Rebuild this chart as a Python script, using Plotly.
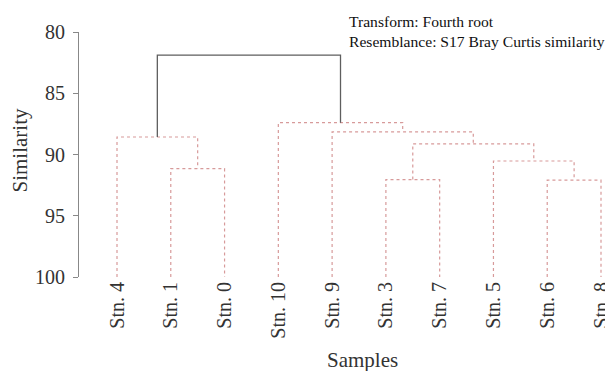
import plotly.graph_objects as go

# ---- data ----
leaf_labels = ["Stn. 4", "Stn. 1", "Stn. 0", "Stn. 10", "Stn. 9",
               "Stn. 3", "Stn. 7", "Stn. 5", "Stn. 6", "Stn. 8"]
# merges: (left child, right child, similarity); children are leaf labels or "m<k>"
merge_left = ["Stn. 1", "Stn. 4", "Stn. 6", "Stn. 5", "Stn. 3", "m4", "Stn. 9", "Stn. 10", "m1"]
merge_right = ["Stn. 0", "m0", "Stn. 8", "m2", "Stn. 7", "m3", "m5", "m6", "m7"]
merge_sim = [91.15, 88.57, 92.1, 90.53, 92.05, 89.14, 88.16, 87.40, 81.88]
merge_significant = [False, False, False, False, False, False, False, False, True]
y_ticks = [80, 85, 90, 95, 100]

# ---- compute node positions ----
pos = {lab: (i, 100.0) for i, lab in enumerate(leaf_labels)}
fig = go.Figure()
sig_color = "#5e5e5e"
ns_color = "#d79a9a"
for k, (a, b, s, sig) in enumerate(zip(merge_left, merge_right, merge_sim, merge_significant)):
    xa, ya = pos[a]
    xb, yb = pos[b]
    pos[f"m{k}"] = ((xa + xb) / 2, s)
    fig.add_trace(go.Scatter(
        x=[xa, xa, xb, xb], y=[ya, s, s, yb], mode="lines",
        line=dict(color=sig_color if sig else ns_color, width=1.3 if sig else 1.2,
                  dash="solid" if sig else "dot"),
        hoverinfo="skip", showlegend=False))

# page body has an 8px margin: work in page pixels, convert to figure pixels
OFF = 8
W, H = 613 - OFF, 372 - OFF - 1
plot_l, plot_r, plot_t, plot_b = 79, 613, 32, 277   # page px
L = plot_l - OFF
R = 0
T = plot_t - OFF
B = H - (plot_b - OFF)
pw = W - L - R
ph = H - T - B
font = "Liberation Serif, Times New Roman, serif"
txt = "#333333"


def px_x(p):  # page px -> paper
    return (p - OFF - L) / pw


def px_y(p):
    return 1 - (p - OFF - T) / ph


# leaf 0 at px 117, leaf 9 at px ~601
x0_px, x9_px = 117.0, 601.0
step = (x9_px - x0_px) / 9
xr = [(plot_l - x0_px) / step, (plot_r - x0_px) / step]

fig.update_layout(
    width=W, height=H,
    margin=dict(l=L, r=R, t=T, b=B, autoexpand=False),
    paper_bgcolor="white", plot_bgcolor="white",
    font=dict(family=font, size=20, color=txt),
    showlegend=False,
    xaxis=dict(range=xr, tickmode="array", automargin=False,
               tickvals=list(range(len(leaf_labels))), ticktext=leaf_labels,
               tickangle=-90, showline=False, showgrid=False, zeroline=False,
               ticklabeloverflow="allow",
               ticks="", tickfont=dict(family=font, size=20, color=txt)),
    yaxis=dict(range=[100, 80], tickmode="array", tickvals=y_ticks, automargin=False,
               ticktext=[str(v) for v in y_ticks],
               showline=True, linecolor="#888888", linewidth=1,
               ticks="outside", ticklen=5, tickcolor="#888888",
               showgrid=False, zeroline=False, ticklabelstandoff=4,
               tickfont=dict(family=font, size=20, color=txt)),
    annotations=[
        dict(text="Similarity", xref="paper", yref="paper",
             x=px_x(19.5), y=px_y(150), xanchor="center", yanchor="middle",
             textangle=-90, showarrow=False, font=dict(family=font, size=21, color=txt)),
        dict(text="Samples", xref="paper", yref="paper",
             x=px_x(362), y=px_y(360), xanchor="center", yanchor="middle",
             showarrow=False, font=dict(family=font, size=21, color=txt)),
        dict(text="Transform: Fourth root<br>Resemblance: S17 Bray Curtis similarity",
             xref="paper", yref="paper", x=px_x(347), y=px_y(11),
             xanchor="left", yanchor="top", align="left", showarrow=False,
             font=dict(family=font, size=15.6, color="#111111")),
    ],
)

fig.write_html("out.html")
